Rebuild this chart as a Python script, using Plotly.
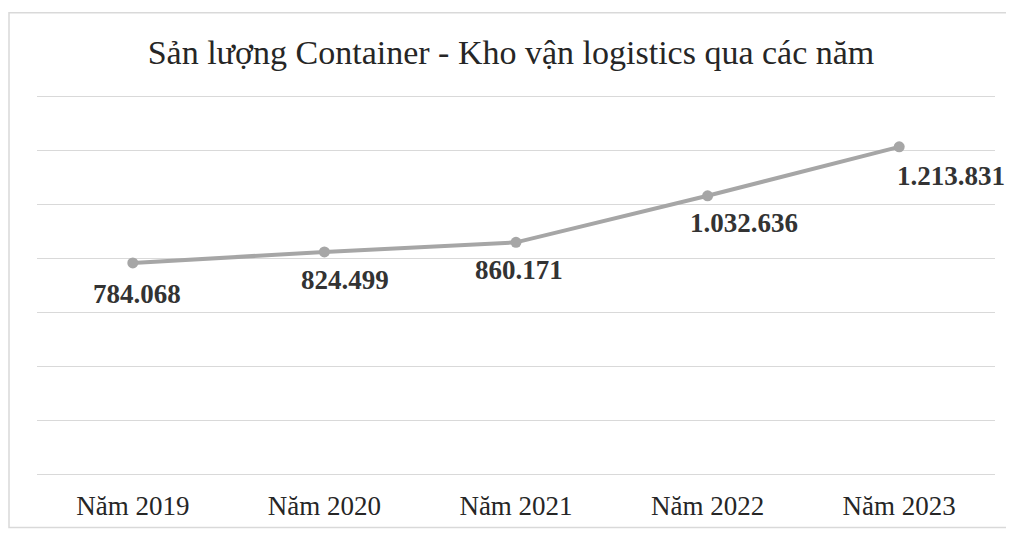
import plotly.graph_objects as go

categories = ["Năm 2019", "Năm 2020", "Năm 2021", "Năm 2022", "Năm 2023"]
values = [784068, 824499, 860171, 1032636, 1213831]
labels = ["784.068", "824.499", "860.171", "1.032.636", "1.213.831"]
title_text = "Sản lượng Container - Kho vận logistics qua các năm"

# label style offsets (pixels)
label_dx = [4, 21, 3, 36, 52]
label_dy = [-31, -28, -28, -27, -29]

LINE = "#a6a6a6"
SERIF = "Liberation Serif, Times New Roman, serif"

fig = go.Figure()
fig.add_trace(go.Scatter(
    x=categories, y=values, mode="lines+markers",
    line=dict(color=LINE, width=4),
    marker=dict(color=LINE, size=11),
    hoverinfo="skip", showlegend=False,
))

for c, v, t, dx, dy in zip(categories, values, labels, label_dx, label_dy):
    fig.add_annotation(x=c, y=v, text=f"<b>{t}</b>", showarrow=False,
                       xshift=dx, yshift=dy, xanchor="center", yanchor="middle",
                       font=dict(family=SERIF, size=27, color="#333333"))

T, B, L, R, W, H = 84, 54, 29, 19, 1006, 525
pw, ph = W - L - R, H - T - B
fig.add_shape(type="rect", xref="paper", yref="paper",
              x0=(1 - L) / pw, x1=(1005 - L) / pw,
              y0=(H - B - 524) / ph, y1=(H - B - 4) / ph,
              line=dict(color="#d9d9d9", width=1.5), layer="below")

fig.update_layout(
    width=W, height=H,
    margin=dict(l=L, r=R, t=T, b=B),
    paper_bgcolor="white", plot_bgcolor="white",
    title=dict(text=title_text, x=0.5, xanchor="center", y=0.916, yanchor="middle",
               font=dict(family=SERIF, size=34, color="#262626")),
    xaxis=dict(type="category", range=[-0.5, 4.5], showgrid=False, zeroline=False,
               showline=False, ticks="",
               tickfont=dict(family=SERIF, size=27, color="#262626"),
               ticklabelstandoff=12),
    yaxis=dict(range=[-1500, 1417000], dtick=200000, showticklabels=False,
               showgrid=True, gridcolor="#d9d9d9", gridwidth=1,
               zeroline=True, zerolinecolor="#d9d9d9", zerolinewidth=1,
               showline=False),
)

fig.write_html("out.html")
